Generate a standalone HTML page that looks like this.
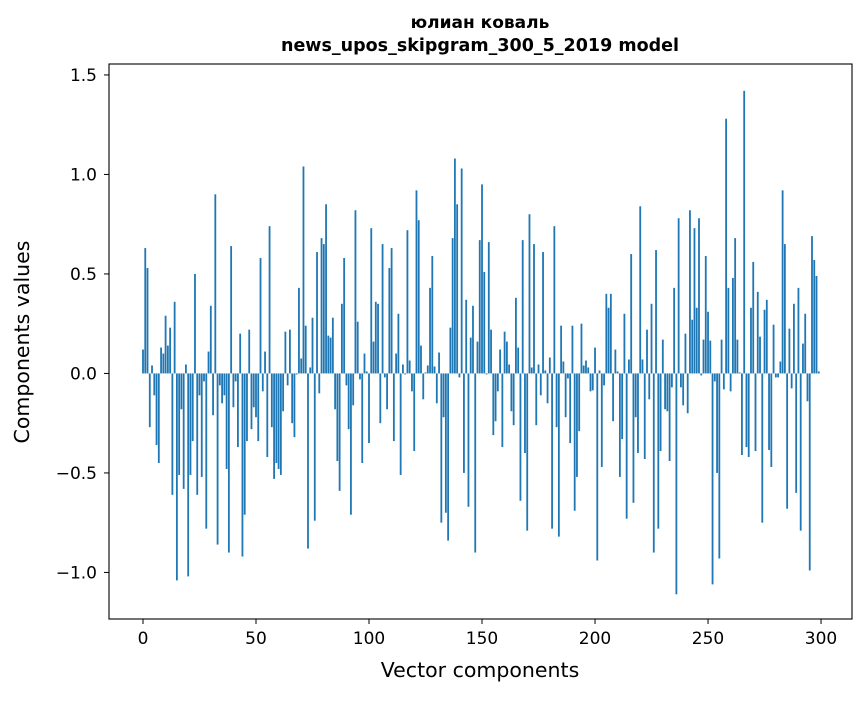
<!DOCTYPE html>
<html><head><meta charset="utf-8"><style>
body{margin:0;background:#fff;}
svg text{font-family:"DejaVu Sans","Liberation Sans",sans-serif;}
</style></head><body>
<svg id="chart" width="867" height="696" xmlns="http://www.w3.org/2000/svg">
<rect width="867" height="696" fill="#fff"/>
<text x="480" y="28" text-anchor="middle" font-size="17" font-weight="bold">юлиан коваль</text>
<text x="480" y="51" text-anchor="middle" font-size="17.5" font-weight="bold">news_upos_skipgram_300_5_2019 model</text>
<g id="bars"></g>
<g id="axes"></g>
<rect x="109" y="64" width="743" height="555" fill="none" stroke="#000" stroke-width="1.1"/>
<text x="480" y="677" text-anchor="middle" font-size="20.5">Vector components</text>
<text transform="translate(29,342) rotate(-90)" text-anchor="middle" font-size="20.5">Components values</text>
</svg>
<script>
const values = [0.12,0.63,0.53,-0.27,0.04,-0.11,-0.36,-0.45,0.13,0.10,
0.29,0.14,0.23,-0.61,0.36,-1.04,-0.51,-0.18,-0.58,0.045,
-1.02,-0.51,-0.34,0.50,-0.61,-0.11,-0.52,-0.04,-0.78,0.11,
0.34,-0.21,0.90,-0.86,-0.06,-0.15,-0.11,-0.48,-0.90,0.64,
-0.17,-0.04,-0.37,0.20,-0.92,-0.71,-0.34,0.22,-0.28,-0.17,
-0.22,-0.34,0.58,-0.09,0.11,-0.42,0.74,-0.27,-0.53,-0.45,
-0.48,-0.51,-0.19,0.21,-0.06,0.22,-0.25,-0.32,-0.005,0.43,
0.075,1.04,0.24,-0.88,0.03,0.28,-0.74,0.61,-0.10,0.68,
0.65,0.85,0.19,0.18,0.28,-0.18,-0.44,-0.59,0.35,0.58,
-0.06,-0.28,-0.71,-0.16,0.82,0.26,-0.03,-0.45,0.10,0.01,
-0.35,0.73,0.16,0.36,0.35,-0.25,0.65,-0.02,-0.18,0.53,
0.63,-0.34,0.10,0.30,-0.51,0.045,-0.005,0.72,0.065,-0.09,
-0.39,0.92,0.77,0.14,-0.13,0.005,0.04,0.43,0.59,0.035,
-0.15,0.105,-0.75,-0.22,-0.70,-0.84,0.23,0.68,1.08,0.85,
-0.02,1.03,-0.50,0.37,-0.67,0.18,0.34,-0.90,0.16,0.67,
0.95,0.51,-0.005,0.66,0.22,-0.31,-0.24,-0.09,0.12,-0.37,
0.21,0.16,0.045,-0.19,-0.26,0.38,0.13,-0.64,0.67,-0.40,
-0.79,0.80,0.03,0.65,-0.26,0.045,-0.11,0.61,0.015,-0.15,
0.08,-0.78,0.74,-0.27,-0.82,0.24,0.06,-0.22,-0.025,-0.35,
0.24,-0.69,-0.52,-0.29,0.25,0.04,0.065,0.03,-0.09,-0.085,
0.13,-0.94,0.015,-0.47,-0.06,0.40,0.33,0.40,-0.24,0.12,
0.01,-0.52,-0.33,0.30,-0.73,0.07,0.60,-0.65,-0.22,-0.40,
0.84,0.07,-0.43,0.22,-0.13,0.35,-0.90,0.62,-0.78,-0.39,
0.17,-0.18,-0.19,-0.44,-0.07,0.43,-1.11,0.78,-0.07,-0.16,
0.20,-0.20,0.82,0.27,0.73,0.33,0.78,-0.01,0.17,0.59,
0.31,0.165,-1.06,-0.04,-0.50,-0.93,0.17,-0.08,1.28,0.43,
-0.09,0.48,0.68,0.17,0.005,-0.41,1.42,-0.37,-0.42,0.33,
0.56,-0.39,0.41,0.185,-0.75,0.32,0.37,-0.385,-0.47,0.245,
-0.02,-0.02,0.06,0.92,0.65,-0.68,0.225,-0.075,0.35,-0.60,
0.43,-0.79,0.15,0.30,-0.14,-0.99,0.69,0.57,0.49,0.01];
const yTicks = [-1.0,-0.5,0.0,0.5,1.0,1.5];
const yTickLabels = ["\u22121.0","\u22120.5","0.0","0.5","1.0","1.5"];
const xTicks = [0,50,100,150,200,250,300];
const xTickLabels = ["0","50","100","150","200","250","300"];

const NS="http://www.w3.org/2000/svg";
const X0=109,X1=852,Y0=64,Y1=619;
const xmin=-15.04,xmax=313.7,ymin=-1.234,ymax=1.555;
function xs(v){return X0+(v-xmin)/(xmax-xmin)*(X1-X0);}
function ys(v){return Y1-(v-ymin)/(ymax-ymin)*(Y1-Y0);}
const bw=(xs(0.8)-xs(0));
const bars=document.getElementById('bars');
values.forEach((v,i)=>{
  const r=document.createElementNS(NS,'rect');
  const y0=ys(0),y1=ys(v);
  r.setAttribute('x',xs(i)-bw/2);
  r.setAttribute('y',Math.min(y0,y1));
  r.setAttribute('width',bw);
  r.setAttribute('height',Math.max(Math.abs(y1-y0),0.3));
  r.setAttribute('fill','#1f77b4');
  
  
  bars.appendChild(r);
});
const axes=document.getElementById('axes');
yTicks.forEach((t,k)=>{
  const y=ys(t);
  const l=document.createElementNS(NS,'line');
  l.setAttribute('x1',X0-5);l.setAttribute('x2',X0);l.setAttribute('y1',y);l.setAttribute('y2',y);
  l.setAttribute('stroke','#000');
  
  
  axes.appendChild(l);
  const tx=document.createElementNS(NS,'text');
  tx.setAttribute('x',X0-12);tx.setAttribute('y',y+6);tx.setAttribute('text-anchor','end');tx.setAttribute('font-size','17');
  tx.textContent=yTickLabels[k];
  
  
  axes.appendChild(tx);
});
xTicks.forEach((t,k)=>{
  const x=xs(t);
  const l=document.createElementNS(NS,'line');
  l.setAttribute('x1',x);l.setAttribute('x2',x);l.setAttribute('y1',Y1);l.setAttribute('y2',Y1+5);
  l.setAttribute('stroke','#000');
  
  
  axes.appendChild(l);
  const tx=document.createElementNS(NS,'text');
  tx.setAttribute('x',x);tx.setAttribute('y',Y1+25);tx.setAttribute('text-anchor','middle');tx.setAttribute('font-size','17');
  tx.textContent=xTickLabels[k];
  
  
  axes.appendChild(tx);
});
</script>
</body></html>
